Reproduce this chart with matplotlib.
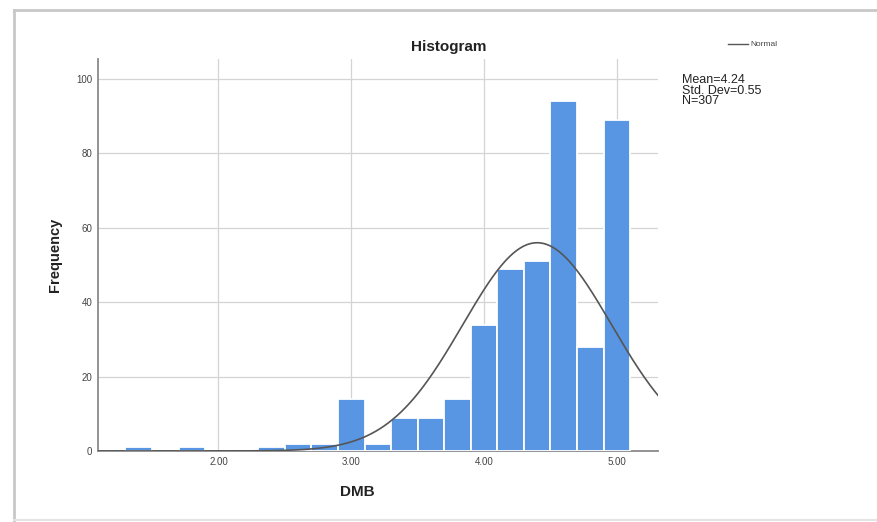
import numpy as np
import matplotlib
matplotlib.use("Agg")
import matplotlib.pyplot as plt
from matplotlib.lines import Line2D

plt.rcParams['font.family'] = ['Liberation Sans', 'DejaVu Sans']

# Histogram data (bin centres, bin width 0.2)
bin_centers = [1.4, 1.8, 2.4, 2.6, 2.8, 3.0, 3.2, 3.4, 3.6, 3.8, 4.0, 4.2, 4.4, 4.6, 4.8, 5.0]
frequencies = [1, 1, 1, 2, 2, 14, 2, 9, 9, 14, 34, 49, 51, 94, 28, 89]
bin_width = 0.2

# Normal curve as drawn
curve_center = 4.40
curve_sd = 0.56
curve_peak = 56.0

x_ticks = [2.0, 3.0, 4.0, 5.0]
x_tick_labels = ["2.00", "3.00", "4.00", "5.00"]
y_ticks = [0, 20, 40, 60, 80, 100]

stats_text = "Mean=4.24\nStd. Dev=0.55\nN=307"

W, H = 878, 522
fig = plt.figure(figsize=(W / 100, H / 100), dpi=100)
fig.patch.set_facecolor("white")

ax = fig.add_axes([98 / W, 1 - 451 / H, (658 - 98) / W, (451 - 59) / H])
ax.set_xlim(1.093, 5.31)
ax.set_ylim(0, 105.4)

ax.bar(bin_centers, frequencies, width=bin_width, color="#5896E4",
       edgecolor="white", linewidth=1.3, zorder=3)

xs = np.linspace(1.093, 5.31, 400)
ys = curve_peak * np.exp(-0.5 * ((xs - curve_center) / curve_sd) ** 2)
ax.plot(xs, ys, color="#555555", linewidth=1.2, zorder=4)

ax.set_xticks(x_ticks)
ax.set_xticklabels(x_tick_labels)
ax.set_yticks(y_ticks)
ax.tick_params(axis="both", length=0, labelsize=7, colors="#444444", pad=4)
ax.grid(True, color="#d4d4d4", linewidth=0.9, zorder=0)
ax.set_axisbelow(True)
for s in ["top", "right"]:
    ax.spines[s].set_visible(False)
for s in ["left", "bottom"]:
    ax.spines[s].set_color("#8a8a8a")
    ax.spines[s].set_linewidth(1.3)

fig.text(449 / W, 1 - 47 / H, "Histogram", ha="center", va="center",
         fontsize=11, fontweight="bold", color="#222222")
fig.text(55 / W, 1 - 255 / H, "Frequency", ha="center", va="center",
         rotation=90, fontsize=10.5, fontweight="bold", color="#222222")
fig.text(357 / W, 1 - 492 / H, "DMB", ha="center", va="center",
         fontsize=11, fontweight="bold", color="#222222")

# legend
fig.add_artist(Line2D([728 / W, 748 / W], [1 - 44 / H, 1 - 44 / H],
                      color="#555555", linewidth=1.0))
fig.text(750 / W, 1 - 44 / H, "Normal", ha="left", va="center",
         fontsize=6, color="#444444")
fig.text(682 / W, 1 - 74 / H, stats_text, ha="left", va="top",
         fontsize=9, color="#222222", linespacing=0.85)

# screenshot frame
fc = "#c8c8c8"
fig.add_artist(Line2D([14 / W, 14 / W], [0, 1 - 10 / H], color=fc, linewidth=2))
fig.add_artist(Line2D([14 / W, 1], [1 - 10 / H, 1 - 10 / H], color=fc, linewidth=2))
fig.add_artist(Line2D([14 / W, 1], [1 - 520 / H, 1 - 520 / H], color="#e4e4e4", linewidth=1.5))

fig.savefig("out.png", dpi=100)
